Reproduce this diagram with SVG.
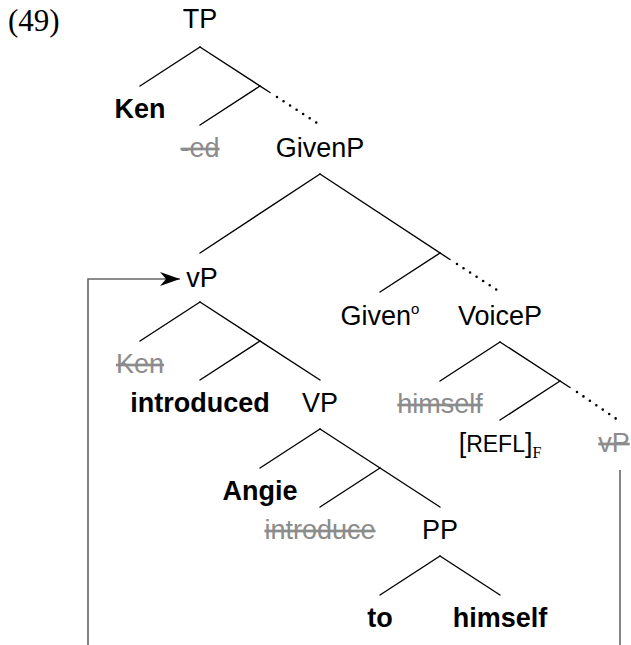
<svg xmlns="http://www.w3.org/2000/svg" width="631" height="645" viewBox="0 0 631 645">
<style>
text{font-family:"Liberation Sans",Arial,sans-serif;font-size:27px;fill:#000;text-anchor:middle}
.b{font-weight:bold}
.g{fill:#8c8c8c;text-decoration:line-through}
.ex{font-family:"Liberation Serif","Times New Roman",serif;font-size:31px;text-anchor:start}
.e{stroke:#000;stroke-width:1.4;fill:none;stroke-linecap:round}
.d{stroke:#000;stroke-width:2.6;fill:none;stroke-linecap:round;stroke-dasharray:0 7.8}
.m{stroke:#666;stroke-width:1.6;fill:none}
</style>
<defs>
<marker id="ah" markerUnits="userSpaceOnUse" viewBox="-21 -8 22 16" refX="0" refY="0" markerWidth="22" markerHeight="16" orient="auto">
<path d="M0,0 L-20,-7 L-14,0 L-20,7 Z" fill="#000"/>
</marker>
</defs>
<text class="ex" x="8" y="31">(49)</text>
<g id="connectors">
<line class="e" x1="200" y1="47" x2="140" y2="86"/>
<line class="e" x1="200" y1="47" x2="270" y2="92.5"/>
<line class="d" x1="277" y1="97" x2="320" y2="125"/>
<line class="e" x1="260" y1="86" x2="200" y2="125"/>
<line class="e" x1="320" y1="174" x2="200" y2="253"/>
<line class="e" x1="320" y1="174" x2="450" y2="259.5"/>
<line class="d" x1="457" y1="264" x2="500" y2="292"/>
<line class="e" x1="440" y1="253" x2="380" y2="292"/>
<line class="e" x1="200" y1="302" x2="140" y2="341"/>
<line class="e" x1="200" y1="302" x2="320" y2="380"/>
<line class="e" x1="260" y1="341" x2="200" y2="380"/>
<line class="e" x1="500" y1="342" x2="440" y2="381"/>
<line class="e" x1="500" y1="342" x2="570" y2="387.5"/>
<line class="d" x1="577" y1="392" x2="618" y2="420"/>
<line class="e" x1="560" y1="381" x2="500" y2="420"/>
<line class="e" x1="320" y1="429" x2="260" y2="468"/>
<line class="e" x1="320" y1="429" x2="440" y2="507"/>
<line class="e" x1="380" y1="468" x2="320" y2="507"/>
<line class="e" x1="440" y1="556" x2="380" y2="595"/>
<line class="e" x1="440" y1="556" x2="500" y2="595"/>
<path class="m" d="M88,645 V279 H180" marker-end="url(#ah)"/>
<path class="m" d="M620,470 V645"/>
</g>
<g id="n-TP"><text x="200" y="28">TP</text></g>
<g id="n-Ken"><text class="b" x="140" y="118">Ken</text></g>
<g id="n-ed"><text class="g" x="200" y="157">-ed</text></g>
<g id="n-GivenP"><text x="320" y="157">GivenP</text></g>
<g id="n-vP"><text x="202" y="287">vP</text></g>
<g id="n-Given0"><text x="380" y="325">Given<tspan font-size="15" dy="-11">o</tspan></text></g>
<g id="n-VoiceP"><text x="500" y="325">VoiceP</text></g>
<g id="n-Ken2"><text class="g" x="140" y="373">Ken</text></g>
<g id="n-introduced"><text class="b" x="200" y="412">introduced</text></g>
<g id="n-VP"><text x="320" y="412">VP</text></g>
<g id="n-himself2"><text class="g" x="440" y="413">himself</text></g>
<g id="n-REFL"><text x="500" y="452">[<tspan font-size="23">REFL</tspan>]<tspan font-family="Liberation Serif,serif" font-size="16" dy="6">F</tspan></text></g>
<g id="n-vP2"><text class="g" x="614" y="452">vP</text></g>
<g id="n-Angie"><text class="b" x="260" y="500">Angie</text></g>
<g id="n-introduce"><text class="g" x="320" y="539">introduce</text></g>
<g id="n-PP"><text x="440" y="539">PP</text></g>
<g id="n-to"><text class="b" x="380" y="627">to</text></g>
<g id="n-himself"><text class="b" x="500" y="627">himself</text></g>
</svg>
